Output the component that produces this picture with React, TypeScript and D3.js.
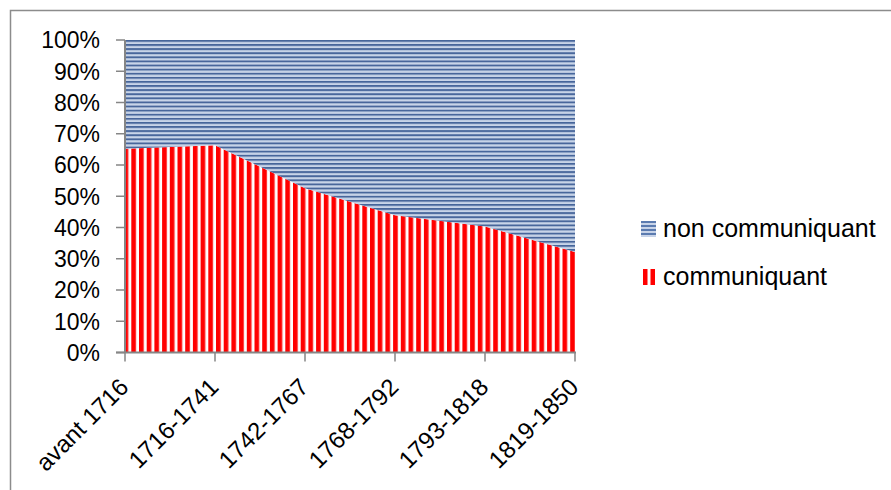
import * as d3 from "d3";

// periods on the x axis
const categories = ["avant 1716", "1716-1741", "1742-1767", "1768-1792", "1793-1818", "1819-1850"];
// share of "communiquant" (%)
const communiquant = [65.2, 66.3, 52.6, 43.9, 40.3, 32.2];
// the rest up to 100%
const nonCommuniquant = communiquant.map((v) => 100 - v);
const yTicks = [0, 10, 20, 30, 40, 50, 60, 70, 80, 90, 100];
const seriesNames = ["communiquant", "non communiquant"];

const width = 891;
const height = 490;
const margin = { top: 40, right: 316, bottom: 137.5, left: 125 };
const font = "'Liberation Sans', Arial, sans-serif";

export default function App() {
  const innerWidth = width - margin.left - margin.right;
  const innerHeight = height - margin.top - margin.bottom;

  const rows = categories.map((c, i) => ({
    cat: c,
    communiquant: communiquant[i],
    "non communiquant": nonCommuniquant[i],
  }));

  const stack = d3.stack<any>().keys(seriesNames).offset(d3.stackOffsetExpand);
  const layers = stack(rows);

  const x = d3.scalePoint<string>().domain(categories).range([0, innerWidth]);
  const y = d3.scaleLinear().domain([0, 1]).range([innerHeight, 0]);

  const area = d3
    .area<any>()
    .x((d) => x(d.data.cat) as number)
    .y0((d) => y(d[0]))
    .y1((d) => y(d[1]));

  const fills = ["url(#redStripes)", "url(#blueStripes)"];

  return (
    <svg
      width={width}
      height={height}
      style={{ position: "absolute", left: 0, top: 0, background: "white" }}
      fontFamily={font}
    >
      <defs>
        <pattern id="redStripes" patternUnits="userSpaceOnUse" width={7.7} height={10} x={margin.left + 4.5}>
          <rect width={7.7} height={10} fill="#ffffff" />
          <rect x={-0.6} width={5.7} height={10} fill="#ffb3b3" />
          <rect width={4.5} height={10} fill="#ff0000" />
        </pattern>
        <pattern id="blueStripes" patternUnits="userSpaceOnUse" width={10} height={4.1} y={margin.top + 1}>
          <rect width={10} height={4.1} fill="#c8d4e8" />
          <rect y={-0.4} width={10} height={2.4} fill="#8099c0" />
          <rect width={10} height={1.6} fill="#46659a" />
        </pattern>
      </defs>

      {/* chart frame, cut off at right and bottom */}
      <rect x={10.5} y={10.5} width={900} height={500} fill="white" stroke="#8c8c8c" strokeWidth={1.5} />

      <g transform={`translate(${margin.left},${margin.top})`}>
        {layers.map((layer, i) => (
          <path key={layer.key} d={area(layer) as string} fill={fills[i]} />
        ))}

        {/* y axis */}
        <line x1={0} x2={0} y1={0} y2={innerHeight} stroke="#868686" strokeWidth={2} />
        {yTicks.map((t) => (
          <g key={t} transform={`translate(0,${y(t / 100)})`}>
            <line x1={-9} x2={0} stroke="#868686" strokeWidth={1.5} />
            <text x={-25} dy="0.36em" textAnchor="end" fontSize={23} fill="#000">
              {t}%
            </text>
          </g>
        ))}

        {/* x axis */}
        <line x1={-9} x2={innerWidth + 1} y1={innerHeight} y2={innerHeight} stroke="#868686" strokeWidth={2} />
        {categories.map((c) => (
          <g key={c} transform={`translate(${x(c)},${innerHeight})`}>
            <line y1={0} y2={9} stroke="#868686" strokeWidth={1.5} />
            <text transform="translate(5,36) rotate(-45)" textAnchor="end" fontSize={24} fill="#000">
              {c}
            </text>
          </g>
        ))}
      </g>

      {/* legend */}
      <g transform="translate(641,221)">
        {d3.range(0, 16, 4).map((yy) => (
          <rect key={"d" + yy} y={yy} width={15} height={2.2} fill="#5b7bb0" />
        ))}
        {d3.range(2.2, 16, 4).map((yy) => (
          <rect key={"l" + yy} y={yy} width={15} height={1.8} fill="#c5d2e8" />
        ))}
        <text x={22} y={16} fontSize={25} fill="#000">
          {seriesNames[1]}
        </text>
      </g>
      <g transform="translate(641,269)">
        <rect x={2} width={4.5} height={16} fill="#ff0000" />
        <rect x={9.5} width={4.5} height={16} fill="#ff0000" />
        <text x={22} y={16} fontSize={25} fill="#000">
          {seriesNames[0]}
        </text>
      </g>
    </svg>
  );
}
